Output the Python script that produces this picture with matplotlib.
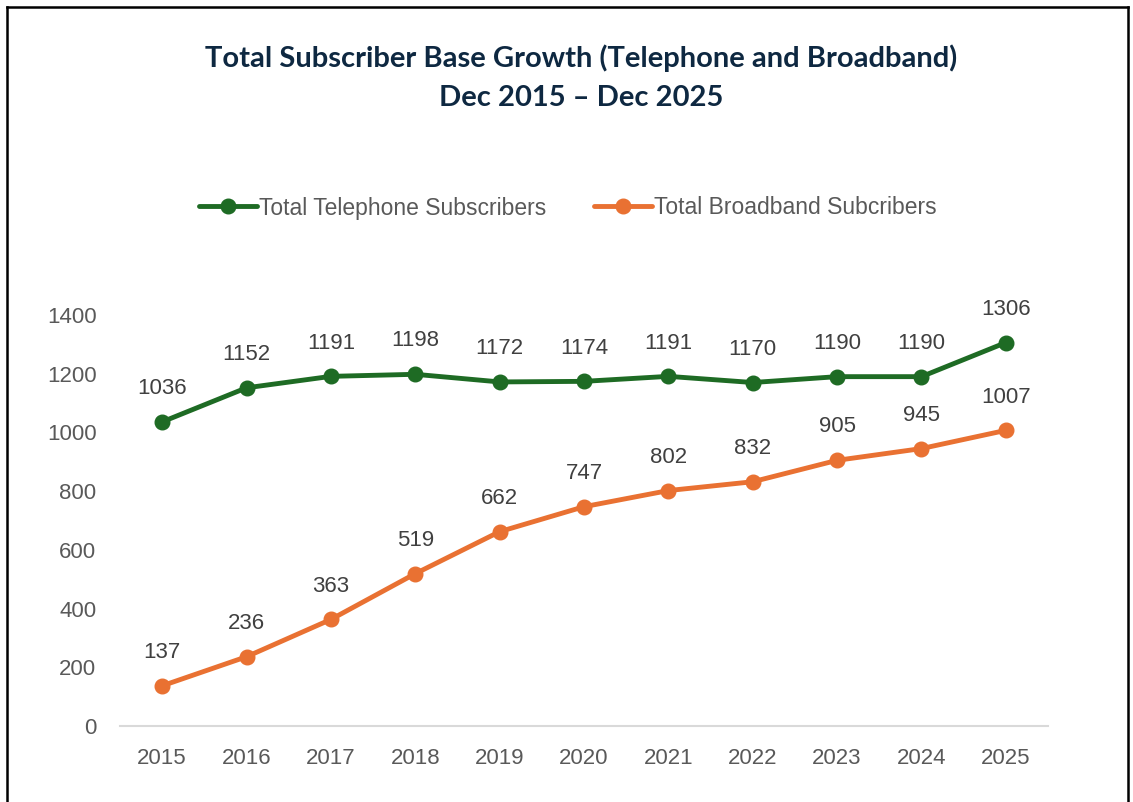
import matplotlib
matplotlib.use("Agg")
import matplotlib.pyplot as plt
from matplotlib.lines import Line2D

years = ["2015", "2016", "2017", "2018", "2019", "2020", "2021", "2022", "2023", "2024", "2025"]
telephone = [1036, 1152, 1191, 1198, 1172, 1174, 1191, 1170, 1190, 1190, 1306]
broadband = [137, 236, 363, 519, 662, 747, 802, 832, 905, 945, 1007]
series_names = ["Total Telephone Subscribers", "Total Broadband Subcribers"]
yticks = [0, 200, 400, 600, 800, 1000, 1200, 1400]

green = "#1E6B24"
orange = "#E97132"
tick_color = "#595959"
label_color = "#404040"
font = ["Liberation Sans", "DejaVu Sans"]

fig = plt.figure(figsize=(11.33, 8.02), dpi=100)
fig.patch.set_facecolor("white")
ax = fig.add_axes([120/1133, 1-726/802, (1048-120)/1133, (726-315)/802])

x = list(range(len(years)))
ax.plot(x, telephone, color=green, lw=3.5, marker="o", ms=10.5, label=series_names[0], solid_capstyle="round")
ax.plot(x, broadband, color=orange, lw=3.5, marker="o", ms=10.5, label=series_names[1], solid_capstyle="round")

for series in (telephone, broadband):
    for xi, v in zip(x, series):
        ax.annotate(str(v), (xi, v), xytext=(0, 24), textcoords="offset points", ha="center", va="center",
                    fontsize=16, color=label_color, family=font)

ax.set_xlim(-0.5, len(years) - 0.5)
ax.set_ylim(0, 1400)
ax.set_xticks(x)
ax.set_xticklabels(years)
ax.set_yticks(yticks)
ax.set_yticklabels([str(t) for t in yticks])
for lab in ax.get_xticklabels() + ax.get_yticklabels():
    lab.set_family(font)
    lab.set_fontsize(16)
    lab.set_color(tick_color)
ax.tick_params(axis="both", length=0)
ax.tick_params(axis="x", pad=16)
ax.tick_params(axis="y", pad=17)
for s in ["top", "right", "left"]:
    ax.spines[s].set_visible(False)
ax.spines["bottom"].set_color("#D9D9D9")
ax.spines["bottom"].set_linewidth(1.5)
for line in ax.lines:
    line.set_clip_on(False)

leg = fig.legend(loc="center", bbox_to_anchor=(568/1133, 1-208/802), ncol=2, frameon=False,
                 prop={"family": font, "size": 16.5}, handlelength=2.5, handletextpad=0.1, columnspacing=2.1)
for t in leg.get_texts():
    t.set_color(tick_color)

fig.text(581/1133, 1-58/802, "Total Subscriber Base Growth (Telephone and Broadband)", ha="center", va="center",
         fontsize=21, fontweight="bold", color="#0E2841", family=["Lato", "DejaVu Sans"])
fig.text(581/1133, 1-98/802, "Dec 2015 \u2013 Dec 2025", ha="center", va="center",
         fontsize=21, fontweight="bold", color="#0E2841", family=["Lato", "DejaVu Sans"])

# outer frame (no bottom edge)
fig.add_artist(Line2D([7/1133, 7/1133], [0, 1-7/802], transform=fig.transFigure, color="black", lw=1.8))
fig.add_artist(Line2D([7/1133, 1128/1133], [1-7/802, 1-7/802], transform=fig.transFigure, color="black", lw=1.8))
fig.add_artist(Line2D([1128/1133, 1128/1133], [0, 1-7/802], transform=fig.transFigure, color="black", lw=1.8))

fig.savefig("out.png", dpi=100)
